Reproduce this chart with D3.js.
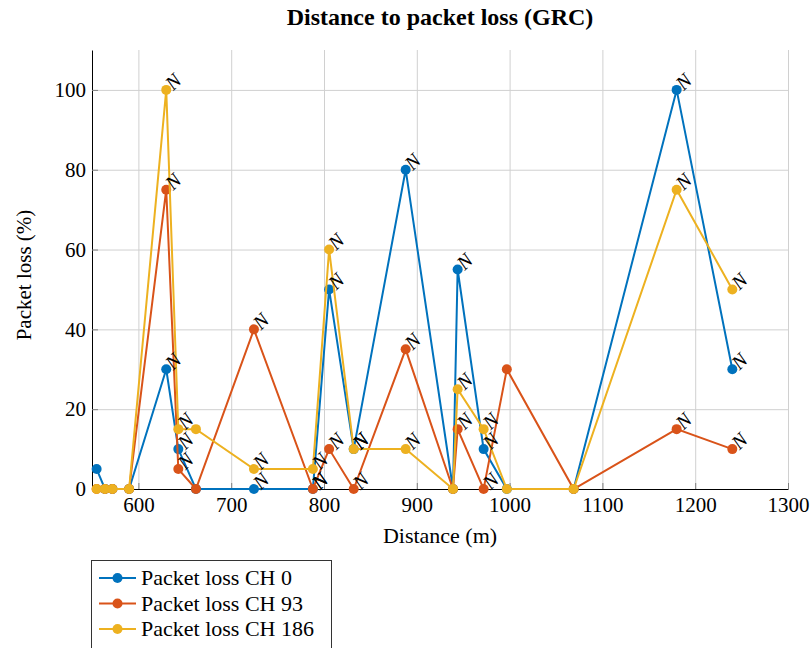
<!DOCTYPE html>
<html lang="en">
<head>
    <meta charset="UTF-8">
    <script src="https://d3js.org/d3.v7.min.js"></script>
    <title>Distance to packet loss (GRC)</title>
    <style>
        body { margin: 0; background: #fff; }
        text { font-family: "Liberation Serif", serif; fill: #000; }
    </style>
</head>
<body>
    <script>
        // Measurement distances (m) and packet loss per channel (%)
        const distance = [555, 564, 572, 590, 630, 643, 662, 724.5, 788, 805.5, 832, 888, 939, 944, 972, 997, 1069, 1180, 1240];
        const lossCh0 = [5, 0, 0, 0, 30, 10, 0, 0, 0, 50, 10, 80, 0, 55, 10, 0, 0, 100, 30];
        const lossCh93 = [0, 0, 0, 0, 75, 5, 0, 40, 0, 10, 0, 35, 0, 15, 0, 30, 0, 15, 10];
        const lossCh186 = [0, 0, 0, 0, 100, 15, 15, 5, 5, 60, 10, 10, 0, 25, 15, 0, 0, 75, 50];
        // points that carry an "N" annotation
        const hasLabel = [0, 0, 0, 0, 1, 1, 0, 1, 1, 1, 1, 1, 0, 1, 1, 0, 0, 1, 1];

        const seriesNames = ["Packet loss CH 0", "Packet loss CH 93", "Packet loss CH 186"];
        const seriesColors = ["#0072BD", "#D95319", "#EDB120"];
        const xTicks = [600, 700, 800, 900, 1000, 1100, 1200, 1300];
        const yTicks = [0, 20, 40, 60, 80, 100];

        const plotLeft = 92, plotRight = 788, plotTop = 50, plotBottom = 489;

        const svg = d3.select("body").append("svg")
            .attr("width", 812)
            .attr("height", 648);

        const x = d3.scaleLinear().domain([550, 1300]).range([plotLeft, plotRight]);
        const y = d3.scaleLinear().domain([0, 110]).range([plotBottom, plotTop]);

        // grid
        svg.append("g")
            .attr("transform", `translate(0,${plotBottom})`)
            .call(d3.axisBottom(x).tickValues(xTicks).tickSize(-(plotBottom - plotTop)).tickFormat(""))
            .call(g => g.select(".domain").remove())
            .call(g => g.selectAll("line").attr("stroke", "#d0d0d0"));
        svg.append("g")
            .attr("transform", `translate(${plotLeft},0)`)
            .call(d3.axisLeft(y).tickValues(yTicks.slice(1)).tickSize(-(plotRight - plotLeft)).tickFormat(""))
            .call(g => g.select(".domain").remove())
            .call(g => g.selectAll("line").attr("stroke", "#d0d0d0"));

        // axes with inner ticks
        svg.append("g")
            .attr("transform", `translate(0,${plotBottom})`)
            .call(d3.axisBottom(x).tickValues(xTicks).tickFormat(d3.format("d"))
                .tickSizeInner(-6).tickSizeOuter(0).tickPadding(8))
            .call(g => g.select(".domain").attr("stroke", "#000"))
            .call(g => g.selectAll(".tick line").attr("stroke", "#808080"))
            .call(g => g.selectAll("text").attr("font-size", 21).attr("font-family", "Liberation Serif"));
        svg.append("g")
            .attr("transform", `translate(${plotLeft},0)`)
            .call(d3.axisLeft(y).tickValues(yTicks).tickSizeInner(-6).tickSizeOuter(0).tickPadding(6))
            .call(g => g.select(".domain").attr("stroke", "#000"))
            .call(g => g.selectAll(".tick line").attr("stroke", "#808080"))
            .call(g => g.selectAll("text").attr("font-size", 21).attr("font-family", "Liberation Serif"));

        // series
        const allSeries = [lossCh0, lossCh93, lossCh186];
        const line = d3.line()
            .x((d, i) => x(distance[i]))
            .y(d => y(d));

        allSeries.forEach((values, s) => {
            const g = svg.append("g");
            g.append("path")
                .attr("d", line(values))
                .attr("fill", "none")
                .attr("stroke", seriesColors[s])
                .attr("stroke-width", 2);
            g.selectAll("circle")
                .data(values)
                .enter().append("circle")
                .attr("cx", (d, i) => x(distance[i]))
                .attr("cy", d => y(d))
                .attr("r", 5)
                .attr("fill", seriesColors[s]);
        });

        // "N" annotations, rotated 45 degrees
        allSeries.forEach(values => {
            svg.append("g").selectAll("text")
                .data(values.map((v, i) => ({ v, i })).filter(d => hasLabel[d.i]))
                .enter().append("text")
                .attr("transform", d => `translate(${x(distance[d.i])},${y(d.v)}) rotate(-45)`)
                .attr("x", 4)
                .attr("dy", "0.3em")
                .attr("font-size", 20)
                .attr("font-style", "italic")
                .text("N");
        });

        // title and axis labels
        svg.append("text")
            .attr("x", (plotLeft + plotRight) / 2)
            .attr("y", 25)
            .attr("text-anchor", "middle")
            .attr("font-size", 24)
            .attr("font-weight", "bold")
            .text("Distance to packet loss (GRC)");
        svg.append("text")
            .attr("x", (plotLeft + plotRight) / 2)
            .attr("y", 543)
            .attr("text-anchor", "middle")
            .attr("font-size", 22)
            .text("Distance (m)");
        svg.append("text")
            .attr("transform", `translate(31,275) rotate(-90)`)
            .attr("text-anchor", "middle")
            .attr("font-size", 21)
            .text("Packet loss (%)");

        // legend
        const legend = svg.append("g");
        legend.append("rect")
            .attr("x", 91.5)
            .attr("y", 560.5)
            .attr("width", 240)
            .attr("height", 100)
            .attr("fill", "#fff")
            .attr("stroke", "#333");
        seriesNames.forEach((name, s) => {
            const cy = 578 + s * 25.5;
            legend.append("line")
                .attr("x1", 99).attr("x2", 136)
                .attr("y1", cy).attr("y2", cy)
                .attr("stroke", seriesColors[s])
                .attr("stroke-width", 2);
            legend.append("circle")
                .attr("cx", 117.5).attr("cy", cy).attr("r", 5)
                .attr("fill", seriesColors[s]);
            legend.append("text")
                .attr("x", 141)
                .attr("y", cy)
                .attr("dy", "0.33em")
                .attr("font-size", 22)
                .text(name);
        });
    </script>
</body>
</html>
